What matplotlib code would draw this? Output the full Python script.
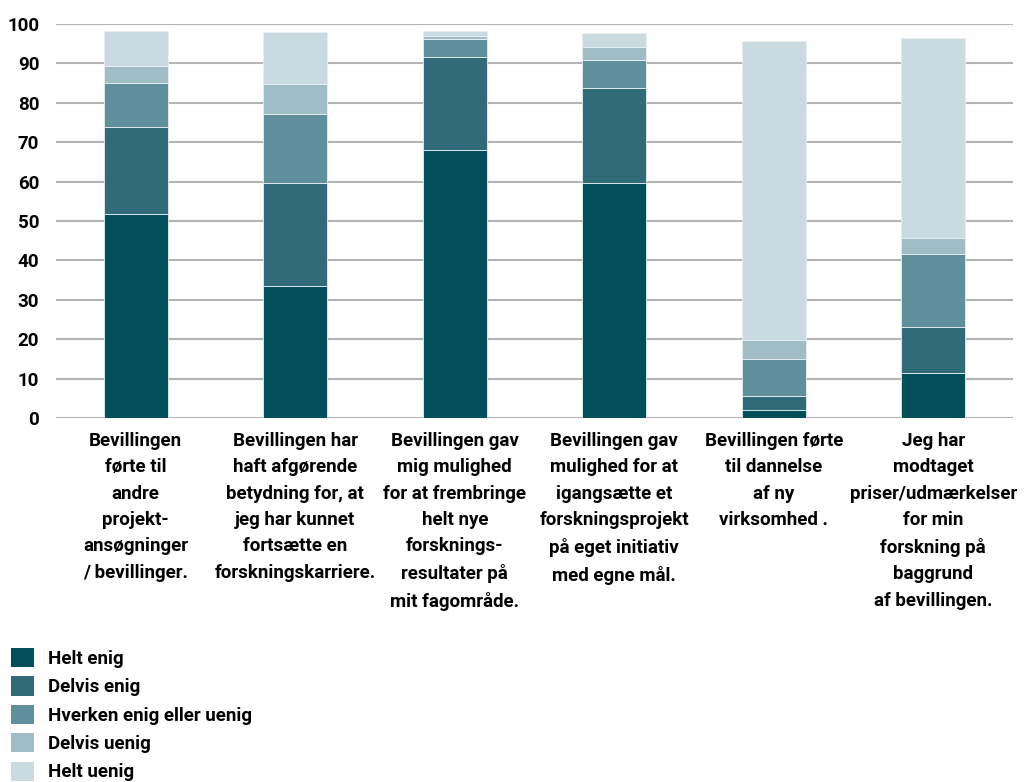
import numpy as np
import matplotlib
matplotlib.use('Agg')
import matplotlib.pyplot as plt
from matplotlib.patches import Patch

plt.rcParams['font.family'] = ['Roboto', 'DejaVu Sans']
plt.rcParams['font.weight'] = 'bold'

# data ----------------------------------------------------------------------
categories = [
    "Bevillingen\nførte til\nandre\nprojekt-\nansøgninger\n/ bevillinger.",
    "Bevillingen har\nhaft afgørende\nbetydning for, at\njeg har kunnet\nfortsætte en\nforskningskarriere.",
    "Bevillingen gav\nmig mulighed\nfor at frembringe\nhelt nye\nforsknings-\nresultater på\nmit fagområde.",
    "Bevillingen gav\nmulighed for at\nigangsætte et\nforskningsprojekt\npå eget initiativ\nmed egne mål.",
    "Bevillingen førte\ntil dannelse\naf ny\nvirksomhed .",
    "Jeg har\nmodtaget\npriser/udmærkelser\nfor min\nforskning på\nbaggrund\naf bevillingen.",
]
series = ['Helt enig', 'Delvis enig', 'Hverken enig eller uenig', 'Delvis uenig', 'Helt uenig']
helt_enig = [51.8, 33.6, 68.0, 59.6, 2.0, 11.5]
delvis_enig = [22.1, 26.0, 23.5, 24.1, 3.7, 11.7]
hverken = [11.2, 17.6, 4.8, 7.2, 9.4, 18.3]
delvis_uenig = [4.3, 7.6, 0.7, 3.3, 4.8, 4.3]
helt_uenig = [8.9, 13.2, 1.3, 3.6, 75.7, 50.6]
colors = ['#034e5b', '#316b7a', '#5f8f9b', '#a0bcc5', '#c9dbe0']

# plot ----------------------------------------------------------------------
fig = plt.figure(figsize=(10.27, 7.82), dpi=100)
ax = fig.add_axes([56 / 1027, 1 - 418 / 782, (1013 - 56) / 1027, (418 - 24) / 782])

pos = np.arange(len(categories))
bottom = np.zeros(len(categories))
for name, vals, c in zip(series, [helt_enig, delvis_enig, hverken, delvis_uenig, helt_uenig], colors):
    ax.bar(pos, vals, width=0.4, bottom=bottom, color=c, edgecolor='#e8eff1', linewidth=0.6, zorder=3)
    bottom += np.array(vals)

ax.set_xlim(-0.5, 5.5)
ax.set_ylim(0, 100)
ax.set_yticks(np.arange(0, 101, 10))
ax.yaxis.grid(True, color='#b4b4b4', linewidth=1.5, zorder=0)
ax.set_axisbelow(True)
for s in ax.spines.values():
    s.set_visible(False)
ax.tick_params(axis='both', length=0, labelsize=13.5)
ax.tick_params(axis='y', pad=12)
ax.tick_params(axis='x', pad=10)
ax.set_xticks(pos)
ax.set_xticklabels(categories, linespacing=1.6, fontsize=13.5)

handles = [Patch(facecolor=c, edgecolor='none') for c in colors]
fig.legend(handles, series, loc='upper left', bbox_to_anchor=(11 / 1027, 1 - 648 / 782),
           frameon=False, fontsize=13.5, borderpad=0, borderaxespad=0,
           handlelength=1.2, handleheight=1.2, handletextpad=0.8, labelspacing=0.45)

plt.savefig('out.png', dpi=100)
